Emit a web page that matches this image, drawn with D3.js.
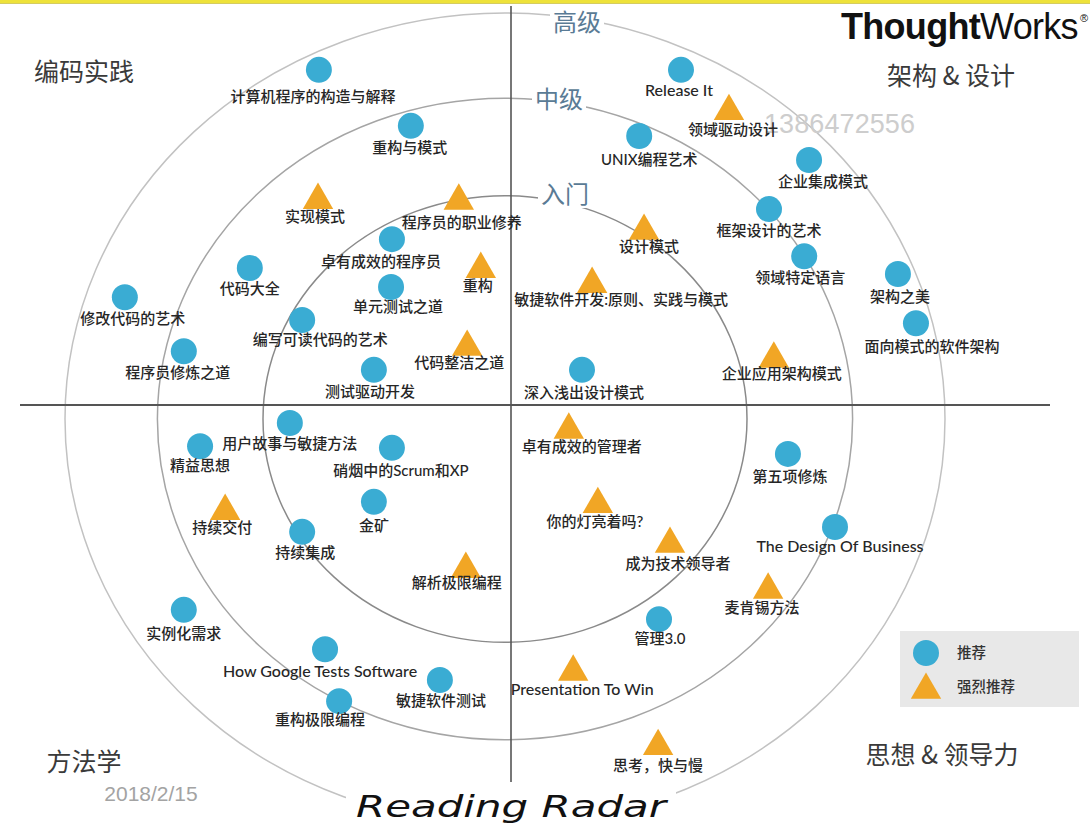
<!DOCTYPE html>
<html><head><meta charset="utf-8">
<script src="https://cdn.jsdelivr.net/npm/d3@7"></script>
<style>body{margin:0;background:#fff;overflow:hidden} svg{display:block}</style>
</head><body>
<svg id="chart" width="1090" height="824"></svg>
<script>
// ---------------- DATA ----------------
const ringNames = ['入门', '中级', '高级'];
const ringRadii = [55, 79, 100];               // radar units (outer ring = 100)
const quadrants = ['编码实践', '架构 & 设计', '方法学', '思想 & 领导力'];
const legendLabels = ['推荐', '强烈推荐'];

const books = [
  '计算机程序的构造与解释','重构与模式','实现模式','程序员的职业修养','卓有成效的程序员','重构','代码大全','单元测试之道','修改代码的艺术','编写可读代码的艺术','代码整洁之道','程序员修炼之道','测试驱动开发',
  'Release It','领域驱动设计','UNIX编程艺术','企业集成模式','框架设计的艺术','设计模式','领域特定语言','架构之美','敏捷软件开发:原则、实践与模式','面向模式的软件架构','企业应用架构模式','深入浅出设计模式',
  '用户故事与敏捷方法','精益思想','硝烟中的Scrum和XP','持续交付','金矿','持续集成','解析极限编程','实例化需求','How Google Tests Software','敏捷软件测试','重构极限编程',
  '卓有成效的管理者','第五项修炼','你的灯亮着吗?','The Design Of Business','成为技术领导者','麦肯锡方法','管理3.0','Presentation To Win','思考，快与慢'
];
// position on the radar, in radar units (-100..100)
const bookX = [-42.3,-21.4,-42.5,-10.5,-25.7,-5.5,-58.0,-25.9,-86.4,-46.1,-8.6,-73.0,-29.8,
  40.0,50.9,30.5,69.1,60.0,31.6,68.0,89.3,19.8,93.4,61.1,17.5,
  -48.9,-69.3,-25.7,-63.6,-29.8,-46.1,-8.9,-73.0,-40.9,-14.8,-37.7,
  14.5,64.3,21.1,75.0,37.5,59.8,35.0,15.5,34.8];
const bookY = [86.0,72.2,54.9,54.7,44.3,37.9,37.2,32.5,30.0,24.4,18.7,16.7,12.1,
  86.0,76.8,69.7,63.8,51.7,47.3,40.1,35.7,34.2,23.6,15.8,12.1,
  -1.0,-6.7,-7.1,-21.7,-20.4,-27.8,-36.0,-47.0,-56.7,-64.3,-69.5,
  -1.7,-8.6,-20.0,-26.6,-29.8,-41.1,-49.3,-61.3,-79.6];
// 0 = 推荐, 1 = 强烈推荐
const bookLevel = [0,0,1,1,0,1,0,0,0,0,1,0,0,
  0,1,0,0,0,1,0,0,1,0,1,0,
  0,0,0,1,0,0,1,0,0,0,0,
  1,0,1,0,1,1,0,1,1];

// ---------------- LAYOUT ----------------
const labelNudge = [[-6,27],[-1,22],[-3,21],[3,26],[-11,23],[-3,21],[0,21],[7,20],[8,22],[18,20],[-8,20],[-6,22],[-4,22],
  [-2,21],[4,23],[10,24],[14,22],[0,22],[5,20],[-4,22],[2,23],[29,20],[16,24],[8,19],[2,23],
  [0,21],[0,20],[9,23],[-3,21],[0,24],[3,21],[-9,18],[0,24],[-5,23],[1,21],[-19,19],
  [13,21],[2,23],[-3,22],[5,20],[8,24],[-6,22],[1,20],[9,22],[0,24]];

const W = 1090, H = 824;
const svg = d3.select('#chart');
const x = d3.scaleLinear().domain([-100, 100]).range([65, 945]);
const y = d3.scaleLinear().domain([-100, 100]).range([825, 13]);
const colors = ['#3aacd3', '#f1a625'];
const labelFont = "Lato, 'Noto Sans CJK SC', sans-serif";
const cjk = "'Noto Sans CJK SC', 'Noto Sans', sans-serif";

// top yellow border
svg.append('rect').attr('x', 0).attr('y', 0).attr('width', W).attr('height', 3).attr('fill', '#eee23a');
svg.append('line').attr('x1', 0).attr('x2', W).attr('y1', 3.5).attr('y2', 3.5).attr('stroke', '#c9bf3a').attr('stroke-width', 0.8);

// rings
const ringStroke = ['#8a8a8a', '#a5a5a5', '#c2c2c2'];
svg.append('g').selectAll('ellipse').data(ringRadii).join('ellipse')
  .attr('cx', x(0)).attr('cy', y(0))
  .attr('rx', d => x(d) - x(0)).attr('ry', d => y(0) - y(d))
  .attr('fill', 'none')
  .attr('stroke', (d, i) => ringStroke[i])
  .attr('stroke-width', 1.5);

// axes
svg.append('line').attr('x1', 511).attr('x2', 511).attr('y1', 6).attr('y2', 782)
  .attr('stroke', '#555').attr('stroke-width', 1.6);
svg.append('line').attr('x1', 20).attr('x2', 1050).attr('y1', 405).attr('y2', 405)
  .attr('stroke', '#555').attr('stroke-width', 1.8);

// ring labels
const ringLabelPos = [[565, 195], [559, 100], [577, 23]];
ringNames.forEach((n, i) => {
  const gg = svg.append('g');
  const bg = gg.append('rect').attr('fill', '#fff');
  const t = gg.append('text').attr('x', ringLabelPos[i][0]).attr('y', ringLabelPos[i][1] + 8)
    .attr('text-anchor', 'middle').attr('font-family', cjk).attr('font-size', 24)
    .attr('fill', '#5a7b95').text(n);
  const b = t.node().getBBox();
  bg.attr('x', b.x - 3).attr('y', b.y + 2).attr('width', b.width + 6).attr('height', b.height - 4);
});

// quadrant labels
const quadPos = [[84, 72], [951, 76], [84, 762], [942, 755]];
svg.append('g').selectAll('text').data(quadrants).join('text')
  .attr('x', (d, i) => quadPos[i][0]).attr('y', (d, i) => quadPos[i][1] + 9)
  .attr('text-anchor', 'middle').attr('font-family', cjk).attr('font-size', 25)
  .attr('fill', '#3a3a3a').text(d => d);

// Title "Reading Radar"
const tg = svg.append('g');
tg.append('rect').attr('x', 346).attr('y', 790).attr('width', 330).attr('height', 34).attr('fill', '#fff');
tg.append('text').attr('x', 511).attr('y', 817).attr('text-anchor', 'middle')
  .attr('font-family', "'DejaVu Sans', sans-serif").attr('font-style', 'italic').attr('font-size', 31)
  .attr('textLength', 310).attr('lengthAdjust', 'spacingAndGlyphs')
  .attr('fill', '#111').text('Reading Radar');

// watermark, date
svg.append('text').attr('x', 764).attr('y', 133).attr('font-family', "'Liberation Sans', Arial, sans-serif")
  .attr('font-size', 27).attr('textLength', 151).attr('fill', '#cdcdcd').text('1386472556');
svg.append('text').attr('x', 151).attr('y', 801).attr('text-anchor', 'middle')
  .attr('font-family', "'Liberation Sans', Arial, sans-serif").attr('font-size', 21)
  .attr('fill', '#a3a3a3').text('2018/2/15');

// logo
const logo = svg.append('text').attr('x', 841).attr('y', 39)
  .attr('font-family', "'Liberation Sans', Arial, sans-serif").attr('font-size', 36).attr('fill', '#111')
  .attr('letter-spacing', -0.7);
logo.append('tspan').attr('font-weight', 'bold').text('Thought');
logo.append('tspan').text('Works');
logo.append('tspan').attr('font-size', 11).attr('dy', -17).attr('dx', 2).text('®');

// book marks
const isLatin = s => /^[\x00-\x7F]+$/.test(s);
const data = books.map((b, i) => ({ name: b, x: bookX[i], y: bookY[i], level: bookLevel[i], nudge: labelNudge[i] }));
const triPath = d3.symbol(d3.symbolTriangle, 400)();
const g = svg.append('g');
const marks = g.selectAll('g.book').data(data).join('g').attr('class', 'book')
  .attr('transform', d => `translate(${x(d.x)},${y(d.y)})`);
marks.filter(d => d.level === 0).append('circle').attr('r', 13).attr('fill', colors[0]);
marks.filter(d => d.level === 1).append('path').attr('d', triPath).attr('transform', 'translate(0,4)').attr('fill', colors[1]);
marks.append('text').attr('x', d => d.nudge[0]).attr('y', d => d.nudge[1] + 5)
  .attr('text-anchor', 'middle').attr('font-family', labelFont)
  .attr('font-size', d => isLatin(d.name) ? 16 : 15)
  .attr('font-weight', d => isLatin(d.name) ? 500 : 500)
  .attr('fill', '#262626').text(d => d.name);

// legend
const lg = svg.append('g');
lg.append('rect').attr('x', 900).attr('y', 631).attr('width', 179).attr('height', 76).attr('fill', '#e8e8e8');
lg.append('circle').attr('cx', 926).attr('cy', 653).attr('r', 13).attr('fill', colors[0]);
lg.append('path').attr('d', triPath).attr('transform', 'translate(926,690)').attr('fill', colors[1]);
lg.selectAll('text').data(legendLabels).join('text')
  .attr('x', 957).attr('y', (d, i) => 658 + i * 34)
  .attr('font-family', cjk).attr('font-size', 14.5).attr('font-weight', 500).attr('fill', '#333').text(d => d);
</script>
</body></html>
